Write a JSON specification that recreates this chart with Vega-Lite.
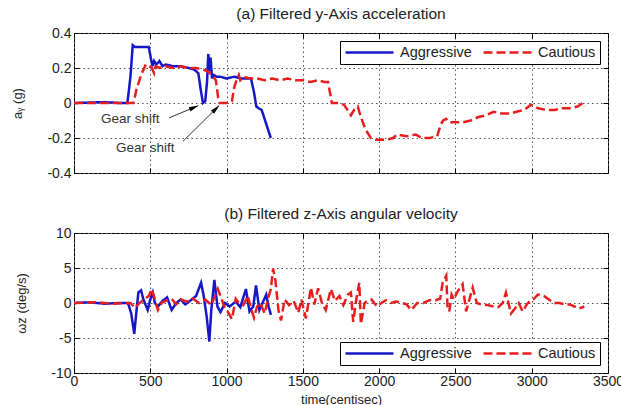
{
  "$schema": "https://vega.github.io/schema/vega-lite/v6.json",
  "background": "white",
  "padding": {"left": 11, "top": 6, "right": 5, "bottom": 5},
  "config": {
    "font": "Liberation Sans",
    "view": {"stroke": "black", "strokeWidth": 1},
    "axis": {
      "grid": true, "gridColor": "#555", "gridDash": [1.5, 3], "gridWidth": 1,
      "domain": false, "tickColor": "#000", "tickSize": -5, "labelPadding": 8,
      "labelFontSize": 14, "labelColor": "#222", "titleFontWeight": "normal",
      "titleFontSize": 13, "titleColor": "#222", "labelOverlap": false, "labelFlush": false
    },
    "axisY": {"titlePadding": 22},
    "axisX": {"labelPadding": 6},
    "title": {"fontSize": 15.5, "fontWeight": "normal", "color": "#222", "offset": 4},
    "legend": {
      "orient": "top-right", "direction": "horizontal", "strokeColor": "black",
      "fillColor": "white", "padding": 4, "labelFontSize": 14.5, "labelColor": "#222",
      "symbolType": "stroke", "symbolSize": 2300, "symbolStrokeWidth": 2.5, "clipHeight": 15,
      "columnPadding": 10, "labelOffset": 5, "offset": 8, "title": null
    }
  },
  "datasets": {
    "acc": [
      {"series": "Aggressive", "t": 0, "v": 0}, {"series": "Aggressive", "t": 200, "v": 0.005}, {"series": "Aggressive", "t": 300, "v": 0}, {"series": "Aggressive", "t": 350, "v": 0},
      {"series": "Aggressive", "t": 370, "v": 0.15}, {"series": "Aggressive", "t": 385, "v": 0.33}, {"series": "Aggressive", "t": 400, "v": 0.32}, {"series": "Aggressive", "t": 430, "v": 0.32},
      {"series": "Aggressive", "t": 460, "v": 0.32}, {"series": "Aggressive", "t": 490, "v": 0.32}, {"series": "Aggressive", "t": 505, "v": 0.25}, {"series": "Aggressive", "t": 515, "v": 0.21},
      {"series": "Aggressive", "t": 525, "v": 0.24}, {"series": "Aggressive", "t": 540, "v": 0.22}, {"series": "Aggressive", "t": 560, "v": 0.24}, {"series": "Aggressive", "t": 580, "v": 0.21},
      {"series": "Aggressive", "t": 600, "v": 0.22}, {"series": "Aggressive", "t": 650, "v": 0.21}, {"series": "Aggressive", "t": 700, "v": 0.21}, {"series": "Aggressive", "t": 750, "v": 0.2},
      {"series": "Aggressive", "t": 790, "v": 0.19}, {"series": "Aggressive", "t": 815, "v": 0.17}, {"series": "Aggressive", "t": 830, "v": 0.08}, {"series": "Aggressive", "t": 845, "v": 0.0},
      {"series": "Aggressive", "t": 860, "v": 0.01}, {"series": "Aggressive", "t": 872, "v": 0.12}, {"series": "Aggressive", "t": 880, "v": 0.28}, {"series": "Aggressive", "t": 885, "v": 0.24},
      {"series": "Aggressive", "t": 890, "v": 0.18}, {"series": "Aggressive", "t": 895, "v": 0.26}, {"series": "Aggressive", "t": 905, "v": 0.14}, {"series": "Aggressive", "t": 915, "v": 0.16},
      {"series": "Aggressive", "t": 935, "v": 0.15}, {"series": "Aggressive", "t": 960, "v": 0.15}, {"series": "Aggressive", "t": 1000, "v": 0.14}, {"series": "Aggressive", "t": 1050, "v": 0.15},
      {"series": "Aggressive", "t": 1100, "v": 0.14}, {"series": "Aggressive", "t": 1160, "v": 0.14}, {"series": "Aggressive", "t": 1180, "v": 0.06}, {"series": "Aggressive", "t": 1195, "v": -0.02},
      {"series": "Aggressive", "t": 1210, "v": -0.03}, {"series": "Aggressive", "t": 1230, "v": -0.04}, {"series": "Aggressive", "t": 1260, "v": -0.12}, {"series": "Aggressive", "t": 1290, "v": -0.2},
      {"series": "Cautious", "t": 0, "v": 0}, {"series": "Cautious", "t": 200, "v": 0}, {"series": "Cautious", "t": 370, "v": 0}, {"series": "Cautious", "t": 390, "v": 0},
      {"series": "Cautious", "t": 410, "v": 0.08}, {"series": "Cautious", "t": 440, "v": 0.16}, {"series": "Cautious", "t": 470, "v": 0.22}, {"series": "Cautious", "t": 490, "v": 0.21},
      {"series": "Cautious", "t": 510, "v": 0.2}, {"series": "Cautious", "t": 525, "v": 0.17}, {"series": "Cautious", "t": 535, "v": 0.21}, {"series": "Cautious", "t": 560, "v": 0.2},
      {"series": "Cautious", "t": 600, "v": 0.21}, {"series": "Cautious", "t": 650, "v": 0.2}, {"series": "Cautious", "t": 700, "v": 0.21}, {"series": "Cautious", "t": 750, "v": 0.2},
      {"series": "Cautious", "t": 800, "v": 0.2}, {"series": "Cautious", "t": 850, "v": 0.19}, {"series": "Cautious", "t": 880, "v": 0.18}, {"series": "Cautious", "t": 910, "v": 0.15},
      {"series": "Cautious", "t": 930, "v": 0.13}, {"series": "Cautious", "t": 945, "v": 0.03}, {"series": "Cautious", "t": 955, "v": 0.0}, {"series": "Cautious", "t": 1000, "v": 0.0},
      {"series": "Cautious", "t": 1035, "v": 0.01}, {"series": "Cautious", "t": 1050, "v": 0.09}, {"series": "Cautious", "t": 1065, "v": 0.13}, {"series": "Cautious", "t": 1080, "v": 0.16},
      {"series": "Cautious", "t": 1090, "v": 0.13}, {"series": "Cautious", "t": 1110, "v": 0.15}, {"series": "Cautious", "t": 1150, "v": 0.14}, {"series": "Cautious", "t": 1200, "v": 0.14},
      {"series": "Cautious", "t": 1250, "v": 0.13}, {"series": "Cautious", "t": 1300, "v": 0.14}, {"series": "Cautious", "t": 1350, "v": 0.13}, {"series": "Cautious", "t": 1400, "v": 0.14},
      {"series": "Cautious", "t": 1450, "v": 0.13}, {"series": "Cautious", "t": 1500, "v": 0.13}, {"series": "Cautious", "t": 1550, "v": 0.12}, {"series": "Cautious", "t": 1600, "v": 0.13},
      {"series": "Cautious", "t": 1640, "v": 0.12}, {"series": "Cautious", "t": 1665, "v": 0.12}, {"series": "Cautious", "t": 1680, "v": 0.05}, {"series": "Cautious", "t": 1690, "v": 0.0},
      {"series": "Cautious", "t": 1730, "v": 0.0}, {"series": "Cautious", "t": 1770, "v": -0.01}, {"series": "Cautious", "t": 1800, "v": -0.05}, {"series": "Cautious", "t": 1815, "v": -0.07},
      {"series": "Cautious", "t": 1835, "v": -0.04}, {"series": "Cautious", "t": 1860, "v": -0.02}, {"series": "Cautious", "t": 1880, "v": -0.08}, {"series": "Cautious", "t": 1910, "v": -0.15},
      {"series": "Cautious", "t": 1945, "v": -0.2}, {"series": "Cautious", "t": 1980, "v": -0.21}, {"series": "Cautious", "t": 2050, "v": -0.21}, {"series": "Cautious", "t": 2090, "v": -0.2},
      {"series": "Cautious", "t": 2120, "v": -0.18}, {"series": "Cautious", "t": 2180, "v": -0.19}, {"series": "Cautious", "t": 2240, "v": -0.18}, {"series": "Cautious", "t": 2280, "v": -0.2},
      {"series": "Cautious", "t": 2330, "v": -0.2}, {"series": "Cautious", "t": 2380, "v": -0.19}, {"series": "Cautious", "t": 2405, "v": -0.12}, {"series": "Cautious", "t": 2420, "v": -0.1},
      {"series": "Cautious", "t": 2440, "v": -0.09}, {"series": "Cautious", "t": 2460, "v": -0.11}, {"series": "Cautious", "t": 2500, "v": -0.11}, {"series": "Cautious", "t": 2550, "v": -0.11},
      {"series": "Cautious", "t": 2600, "v": -0.1}, {"series": "Cautious", "t": 2650, "v": -0.08}, {"series": "Cautious", "t": 2700, "v": -0.07}, {"series": "Cautious", "t": 2750, "v": -0.05},
      {"series": "Cautious", "t": 2800, "v": -0.06}, {"series": "Cautious", "t": 2860, "v": -0.06}, {"series": "Cautious", "t": 2900, "v": -0.05}, {"series": "Cautious", "t": 2950, "v": -0.04},
      {"series": "Cautious", "t": 2995, "v": -0.01}, {"series": "Cautious", "t": 3040, "v": -0.03}, {"series": "Cautious", "t": 3100, "v": -0.04}, {"series": "Cautious", "t": 3150, "v": -0.04},
      {"series": "Cautious", "t": 3200, "v": -0.03}, {"series": "Cautious", "t": 3250, "v": -0.03}, {"series": "Cautious", "t": 3300, "v": -0.02}, {"series": "Cautious", "t": 3335, "v": 0.0},
      {"series": "Cautious", "t": 3345, "v": -0.02}
    ],
    "gyro": [
      {"series": "Aggressive", "t": 0, "v": 0}, {"series": "Aggressive", "t": 100, "v": 0.1}, {"series": "Aggressive", "t": 200, "v": -0.1}, {"series": "Aggressive", "t": 300, "v": 0},
      {"series": "Aggressive", "t": 354, "v": 0}, {"series": "Aggressive", "t": 375, "v": -1.5}, {"series": "Aggressive", "t": 395, "v": -4.4}, {"series": "Aggressive", "t": 410, "v": -1},
      {"series": "Aggressive", "t": 422, "v": 1.5}, {"series": "Aggressive", "t": 440, "v": 1.8}, {"series": "Aggressive", "t": 455, "v": 0.5}, {"series": "Aggressive", "t": 483, "v": -1},
      {"series": "Aggressive", "t": 500, "v": 0.5}, {"series": "Aggressive", "t": 516, "v": 1.5}, {"series": "Aggressive", "t": 530, "v": 0}, {"series": "Aggressive", "t": 550, "v": -0.5},
      {"series": "Aggressive", "t": 580, "v": 0.3}, {"series": "Aggressive", "t": 610, "v": 0.8}, {"series": "Aggressive", "t": 640, "v": -1}, {"series": "Aggressive", "t": 670, "v": 0},
      {"series": "Aggressive", "t": 700, "v": 0.5}, {"series": "Aggressive", "t": 730, "v": -0.2}, {"series": "Aggressive", "t": 760, "v": 0.3}, {"series": "Aggressive", "t": 800, "v": 1},
      {"series": "Aggressive", "t": 833, "v": 2.9}, {"series": "Aggressive", "t": 850, "v": 1}, {"series": "Aggressive", "t": 870, "v": -2}, {"series": "Aggressive", "t": 887, "v": -5.5},
      {"series": "Aggressive", "t": 900, "v": -1}, {"series": "Aggressive", "t": 920, "v": 3.3}, {"series": "Aggressive", "t": 940, "v": -0.5}, {"series": "Aggressive", "t": 960, "v": -1.3},
      {"series": "Aggressive", "t": 990, "v": 0}, {"series": "Aggressive", "t": 1020, "v": -0.5}, {"series": "Aggressive", "t": 1060, "v": 0.2}, {"series": "Aggressive", "t": 1090, "v": -0.6},
      {"series": "Aggressive", "t": 1127, "v": 2}, {"series": "Aggressive", "t": 1150, "v": -1.2}, {"series": "Aggressive", "t": 1175, "v": -0.5}, {"series": "Aggressive", "t": 1193, "v": 2.5},
      {"series": "Aggressive", "t": 1215, "v": -1}, {"series": "Aggressive", "t": 1240, "v": 0.2}, {"series": "Aggressive", "t": 1260, "v": 1.2}, {"series": "Aggressive", "t": 1275, "v": -0.5},
      {"series": "Aggressive", "t": 1291, "v": -1.7},
      {"series": "Cautious", "t": 0, "v": 0}, {"series": "Cautious", "t": 150, "v": 0.1}, {"series": "Cautious", "t": 250, "v": -0.1}, {"series": "Cautious", "t": 370, "v": 0},
      {"series": "Cautious", "t": 400, "v": -0.7}, {"series": "Cautious", "t": 430, "v": 0}, {"series": "Cautious", "t": 460, "v": 0.5}, {"series": "Cautious", "t": 490, "v": 1},
      {"series": "Cautious", "t": 510, "v": 2}, {"series": "Cautious", "t": 530, "v": 0.5}, {"series": "Cautious", "t": 550, "v": -1}, {"series": "Cautious", "t": 575, "v": 0},
      {"series": "Cautious", "t": 600, "v": 0.3}, {"series": "Cautious", "t": 640, "v": 0.6}, {"series": "Cautious", "t": 670, "v": -0.2}, {"series": "Cautious", "t": 700, "v": 0.5},
      {"series": "Cautious", "t": 740, "v": 0.2}, {"series": "Cautious", "t": 780, "v": 0.6}, {"series": "Cautious", "t": 820, "v": 0}, {"series": "Cautious", "t": 860, "v": 0.5},
      {"series": "Cautious", "t": 900, "v": -0.3}, {"series": "Cautious", "t": 943, "v": 2}, {"series": "Cautious", "t": 960, "v": 1}, {"series": "Cautious", "t": 985, "v": -0.5},
      {"series": "Cautious", "t": 1010, "v": -1.3}, {"series": "Cautious", "t": 1035, "v": -2.3}, {"series": "Cautious", "t": 1060, "v": 0.6}, {"series": "Cautious", "t": 1080, "v": 0},
      {"series": "Cautious", "t": 1110, "v": -0.3}, {"series": "Cautious", "t": 1140, "v": 1}, {"series": "Cautious", "t": 1160, "v": -0.8}, {"series": "Cautious", "t": 1180, "v": -2.1},
      {"series": "Cautious", "t": 1200, "v": -0.5}, {"series": "Cautious", "t": 1220, "v": 0}, {"series": "Cautious", "t": 1250, "v": -1.5}, {"series": "Cautious", "t": 1270, "v": 0.5},
      {"series": "Cautious", "t": 1290, "v": 2}, {"series": "Cautious", "t": 1305, "v": 4.9}, {"series": "Cautious", "t": 1320, "v": 3.2}, {"series": "Cautious", "t": 1340, "v": -1},
      {"series": "Cautious", "t": 1357, "v": -2.5}, {"series": "Cautious", "t": 1380, "v": 0.5}, {"series": "Cautious", "t": 1410, "v": -0.3}, {"series": "Cautious", "t": 1440, "v": 0.3},
      {"series": "Cautious", "t": 1470, "v": -1.4}, {"series": "Cautious", "t": 1490, "v": 0.5}, {"series": "Cautious", "t": 1520, "v": -2.2}, {"series": "Cautious", "t": 1553, "v": 2.2},
      {"series": "Cautious", "t": 1575, "v": -0.2}, {"series": "Cautious", "t": 1600, "v": 2.1}, {"series": "Cautious", "t": 1625, "v": 0}, {"series": "Cautious", "t": 1650, "v": -1},
      {"series": "Cautious", "t": 1684, "v": 2}, {"series": "Cautious", "t": 1710, "v": 0.3}, {"series": "Cautious", "t": 1740, "v": 1}, {"series": "Cautious", "t": 1765, "v": -0.3},
      {"series": "Cautious", "t": 1795, "v": 1.2}, {"series": "Cautious", "t": 1815, "v": 1.5}, {"series": "Cautious", "t": 1830, "v": -2.7}, {"series": "Cautious", "t": 1850, "v": 0.5},
      {"series": "Cautious", "t": 1870, "v": 2.9}, {"series": "Cautious", "t": 1880, "v": -3}, {"series": "Cautious", "t": 1905, "v": 0}, {"series": "Cautious", "t": 1930, "v": 0.4},
      {"series": "Cautious", "t": 1950, "v": 0.5}, {"series": "Cautious", "t": 1985, "v": -0.5}, {"series": "Cautious", "t": 2015, "v": 0}, {"series": "Cautious", "t": 2045, "v": 0.4},
      {"series": "Cautious", "t": 2080, "v": 0}, {"series": "Cautious", "t": 2110, "v": 0.2}, {"series": "Cautious", "t": 2150, "v": 0}, {"series": "Cautious", "t": 2180, "v": -0.2},
      {"series": "Cautious", "t": 2210, "v": -1}, {"series": "Cautious", "t": 2250, "v": 0}, {"series": "Cautious", "t": 2290, "v": 0}, {"series": "Cautious", "t": 2330, "v": 0.4},
      {"series": "Cautious", "t": 2370, "v": 0.4}, {"series": "Cautious", "t": 2400, "v": 0.6}, {"series": "Cautious", "t": 2416, "v": 2.9}, {"series": "Cautious", "t": 2440, "v": 3.9},
      {"series": "Cautious", "t": 2448, "v": -0.5}, {"series": "Cautious", "t": 2460, "v": -1.2}, {"series": "Cautious", "t": 2475, "v": 1.2}, {"series": "Cautious", "t": 2490, "v": 0.5},
      {"series": "Cautious", "t": 2510, "v": 1.5}, {"series": "Cautious", "t": 2547, "v": 2.7}, {"series": "Cautious", "t": 2570, "v": -1.2}, {"series": "Cautious", "t": 2613, "v": 2.2},
      {"series": "Cautious", "t": 2640, "v": 0}, {"series": "Cautious", "t": 2680, "v": -0.3}, {"series": "Cautious", "t": 2710, "v": -0.3}, {"series": "Cautious", "t": 2750, "v": -0.5},
      {"series": "Cautious", "t": 2780, "v": -0.6}, {"series": "Cautious", "t": 2810, "v": 0}, {"series": "Cautious", "t": 2831, "v": 1.5}, {"series": "Cautious", "t": 2864, "v": -1.5},
      {"series": "Cautious", "t": 2890, "v": -0.8}, {"series": "Cautious", "t": 2915, "v": 0}, {"series": "Cautious", "t": 2940, "v": -1.2}, {"series": "Cautious", "t": 2965, "v": -0.3},
      {"series": "Cautious", "t": 2990, "v": 0.4}, {"series": "Cautious", "t": 3015, "v": 0.6}, {"series": "Cautious", "t": 3040, "v": 1.2}, {"series": "Cautious", "t": 3080, "v": 1},
      {"series": "Cautious", "t": 3120, "v": 0.4}, {"series": "Cautious", "t": 3150, "v": 0}, {"series": "Cautious", "t": 3180, "v": 0}, {"series": "Cautious", "t": 3220, "v": -0.2},
      {"series": "Cautious", "t": 3250, "v": -0.2}, {"series": "Cautious", "t": 3280, "v": -0.5}, {"series": "Cautious", "t": 3310, "v": -0.8}, {"series": "Cautious", "t": 3345, "v": -0.5}
    ],
    "notes": [
      {"id": 1, "label": "Gear shift", "t": 177, "v": -0.091, "t1": 623, "v1": -0.085, "t2": 813, "v2": -0.016, "th": 782, "vh": -0.027},
      {"id": 2, "label": "Gear shift", "t": 275, "v": -0.259, "t1": 714, "v1": -0.219, "t2": 950, "v2": -0.016, "th": 927, "vh": -0.036}
    ]
  },
  "vconcat": [
    {
      "width": 534, "height": 140,
      "title": "(a) Filtered y-Axis acceleration",
      "resolve": {"axis": {"x": "independent", "y": "independent"}},
      "layer": [
        {
          "data": {"name": "acc"},
          "mark": {"type": "line", "strokeWidth": 2.5},
          "encoding": {
            "x": {"field": "t", "type": "quantitative", "scale": {"domain": [0, 3500], "nice": false},
                  "axis": {"orient": "bottom", "values": [0, 500, 1000, 1500, 2000, 2500, 3000, 3500], "labels": false, "title": null}},
            "y": {"field": "v", "type": "quantitative", "scale": {"domain": [-0.4, 0.4], "nice": false},
                  "axis": {"orient": "left", "values": [-0.4, -0.2, 0, 0.2, 0.4], "title": "aᵧ (g)", "labelOverlap": false,
                           "labelExpr": "datum.value == 0 ? '0' : (datum.value < 0 ? '-' : '') + format(abs(datum.value), '.1f')"}},
            "color": {"field": "series", "type": "nominal", "scale": {"domain": ["Aggressive", "Cautious"], "range": ["#1717c8", "#e81e1e"]}},
            "strokeDash": {"field": "series", "type": "nominal", "scale": {"domain": ["Aggressive", "Cautious"], "range": [[1, 0], [9, 4]]}}
          }
        },
        {
          "data": {"name": "notes"},
          "mark": {"type": "rule", "color": "#333", "strokeWidth": 1},
          "encoding": {
            "x": {"field": "t1", "type": "quantitative", "axis": null}, "y": {"field": "v1", "type": "quantitative", "axis": null},
            "x2": {"field": "t2"}, "y2": {"field": "v2"}
          }
        },
        {
          "data": {"name": "notes"},
          "transform": [{"filter": "datum.id == 1"}],
          "mark": {"type": "point", "shape": "M0,-1L0.4,0.7L-0.4,0.7Z", "filled": true, "color": "#000", "opacity": 1, "size": 130, "angle": 67},
          "encoding": {"x": {"field": "th", "type": "quantitative", "axis": null}, "y": {"field": "vh", "type": "quantitative", "axis": null}}
        },
        {
          "data": {"name": "notes"},
          "transform": [{"filter": "datum.id == 2"}],
          "mark": {"type": "point", "shape": "M0,-1L0.4,0.7L-0.4,0.7Z", "filled": true, "color": "#000", "opacity": 1, "size": 130, "angle": 46},
          "encoding": {"x": {"field": "th", "type": "quantitative", "axis": null}, "y": {"field": "vh", "type": "quantitative", "axis": null}}
        },
        {
          "data": {"name": "notes"},
          "mark": {"type": "text", "align": "left", "baseline": "middle", "fontSize": 13.5, "color": "#333"},
          "encoding": {
            "x": {"field": "t", "type": "quantitative", "axis": {"orient": "top", "values": [0, 500, 1000, 1500, 2000, 2500, 3000, 3500], "labels": false, "title": null, "grid": false}},
            "y": {"field": "v", "type": "quantitative", "axis": {"orient": "right", "values": [-0.4, -0.2, 0, 0.2, 0.4], "labels": false, "title": null, "grid": false}},
            "text": {"field": "label"}
          }
        }
      ]
    },
    {
      "width": 534, "height": 140,
      "title": "(b) Filtered z-Axis angular velocity",
      "data": {"name": "gyro"},
      "resolve": {"axis": {"x": "independent", "y": "independent"}},
      "layer": [
        {
          "mark": {"type": "line", "strokeWidth": 2.5},
          "encoding": {
            "x": {"field": "t", "type": "quantitative", "scale": {"domain": [0, 3500], "nice": false},
                  "axis": {"orient": "bottom", "values": [0, 500, 1000, 1500, 2000, 2500, 3000, 3500], "title": "time(centisec)", "format": "d", "titlePadding": 5}},
            "y": {"field": "v", "type": "quantitative", "scale": {"domain": [-10, 10], "nice": false},
                  "axis": {"orient": "left", "values": [-10, -5, 0, 5, 10], "title": "ωz (deg/s)", "labelOverlap": false,
                           "labelExpr": "(datum.value < 0 ? '-' : '') + format(abs(datum.value), 'd')"}},
            "color": {"field": "series", "type": "nominal", "scale": {"domain": ["Aggressive", "Cautious"], "range": ["#1717c8", "#e81e1e"]}, "legend": {"orient": "bottom-right"}},
            "strokeDash": {"field": "series", "type": "nominal", "scale": {"domain": ["Aggressive", "Cautious"], "range": [[1, 0], [9, 4]]}, "legend": {"orient": "bottom-right"}}
          }
        },
        {
          "mark": {"type": "point", "opacity": 0},
          "encoding": {
            "x": {"field": "t", "type": "quantitative", "axis": {"orient": "top", "values": [0, 500, 1000, 1500, 2000, 2500, 3000, 3500], "labels": false, "title": null, "grid": false}},
            "y": {"field": "v", "type": "quantitative", "axis": {"orient": "right", "values": [-10, -5, 0, 5, 10], "labels": false, "title": null, "grid": false}}
          }
        }
      ]
    }
  ],
  "spacing": 25,
  "resolve": {
    "scale": {"color": "independent", "strokeDash": "independent", "x": "independent", "y": "independent"},
    "legend": {"color": "independent", "strokeDash": "independent"}
  }
}
